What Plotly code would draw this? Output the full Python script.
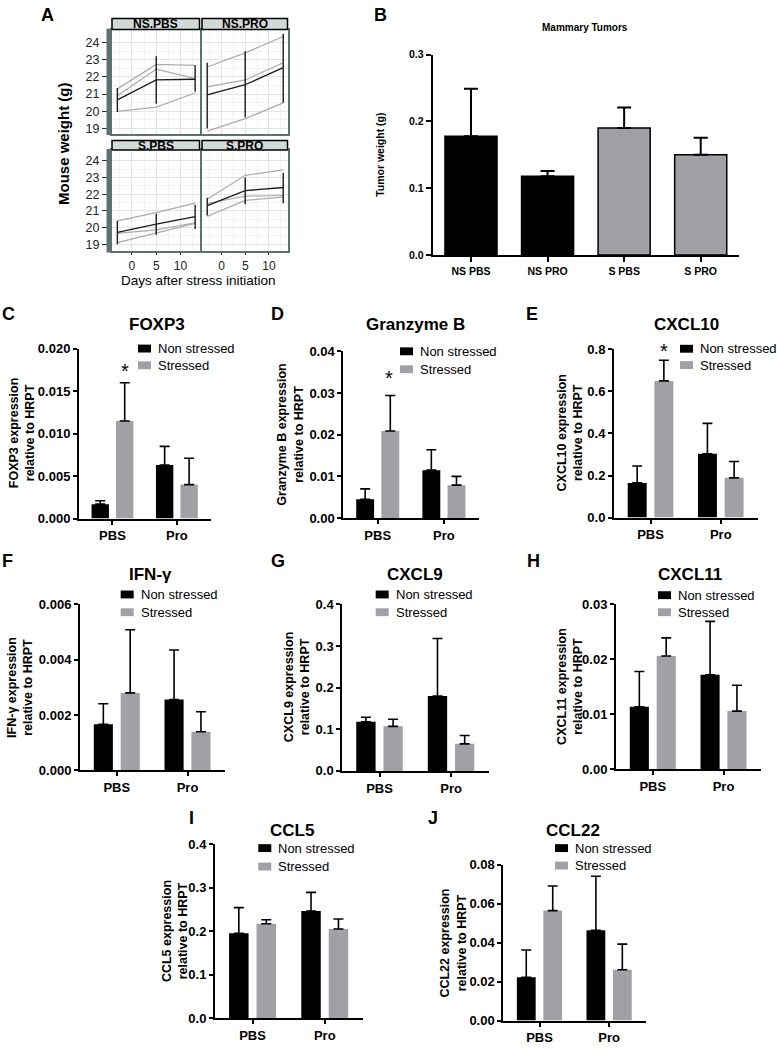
import plotly.graph_objects as go

W, H = 777, 1050
FONT = "Arial, Liberation Sans, Helvetica, sans-serif"

# ---------------- Panel A: mouse weight (g) ----------------
days = [-3, 5, 13]
a_facets = ["NS.PBS", "NS.PRO", "S.PBS", "S.PRO"]

nspbs_mean = [20.66, 21.82, 21.86]
nspbs_lo = [19.95, 20.43, 21.14]
nspbs_hi = [21.35, 23.20, 22.68]
nspbs_mice = [[21.30, 22.72, 22.67], [20.90, 22.44, 21.90], [19.99, 20.24, 21.06]]

nspro_mean = [20.95, 21.54, 22.53]
nspro_lo = [19.00, 19.65, 20.49]
nspro_hi = [22.82, 23.48, 24.50]
nspro_mice = [[22.57, 23.39, 24.34], [21.42, 21.82, 22.82], [18.85, 19.57, 20.49]]

spbs_mean = [19.71, 20.21, 20.65]
spbs_lo = [19.00, 19.57, 19.92]
spbs_hi = [20.40, 20.83, 21.36]
spbs_mice = [[20.40, 20.90, 21.46], [19.65, 19.86, 20.29], [19.10, 19.67, 20.25]]

spro_mean = [21.31, 22.21, 22.40]
spro_lo = [20.73, 21.40, 21.46]
spro_hi = [21.79, 23.00, 23.29]
spro_mice = [[21.69, 23.13, 23.46], [21.44, 21.88, 21.92], [20.67, 21.63, 21.82]]

a_yticks = [19, 20, 21, 22, 23, 24]
a_xticks = [0, 5, 10]

# ---------------- Panel B: tumor weight ----------------
b_groups = ["NS PBS", "NS PRO", "S PBS", "S PRO"]
b_mean = [0.178, 0.118, 0.190, 0.150]
b_sem = [0.071, 0.008, 0.031, 0.0255]

# ---------------- Panels C-J: expression relative to HRPT ----------------
treatments = ["PBS", "Pro"]
series_names = ["Non stressed", "Stressed"]

foxp3_non = [0.0017, 0.0063]
foxp3_non_sem = [0.0004, 0.0022]
foxp3_str = [0.0115, 0.0040]
foxp3_str_sem = [0.0045, 0.0031]

gzmb_non = [0.0045, 0.0115]
gzmb_non_sem = [0.0025, 0.0049]
gzmb_str = [0.0209, 0.0079]
gzmb_str_sem = [0.0085, 0.0021]

cxcl10_non = [0.165, 0.303]
cxcl10_non_sem = [0.080, 0.145]
cxcl10_str = [0.650, 0.189]
cxcl10_str_sem = [0.098, 0.078]

ifng_non = [0.00167, 0.00256]
ifng_non_sem = [0.00074, 0.00179]
ifng_str = [0.00280, 0.00140]
ifng_str_sem = [0.00228, 0.00072]

cxcl9_non = [0.118, 0.180]
cxcl9_non_sem = [0.011, 0.138]
cxcl9_str = [0.107, 0.065]
cxcl9_str_sem = [0.017, 0.020]

cxcl11_non = [0.0114, 0.0172]
cxcl11_non_sem = [0.0064, 0.0097]
cxcl11_str = [0.0206, 0.0106]
cxcl11_str_sem = [0.0033, 0.0047]

ccl5_non = [0.195, 0.246]
ccl5_non_sem = [0.059, 0.043]
ccl5_str = [0.217, 0.205]
ccl5_str_sem = [0.009, 0.023]

ccl22_non = [0.0222, 0.0463]
ccl22_non_sem = [0.0140, 0.0277]
ccl22_str = [0.0564, 0.0261]
ccl22_str_sem = [0.0126, 0.0131]

# ---------------- helpers ----------------
def fx(x):
    return x / W


def fy(y):
    return 1 - y / H


def axkey(letter, k):
    return f"{letter}axis" + ("" if k == 1 else str(k))


def tref(letter, k):
    return letter + ("" if k == 1 else str(k))


def ann(text, x, y, size, bold=False, angle=0, xanchor="center", yanchor="middle", color="black"):
    return dict(text=text, x=fx(x), y=fy(y), xref="paper", yref="paper", showarrow=False,
                textangle=angle, xanchor=xanchor, yanchor=yanchor,
                font=dict(size=size, color=color, family=FONT, weight="bold" if bold else "normal"))


def rect(x0, y0, x1, y1, fill, line_color=None, lw=0, layer="above"):
    return dict(type="rect", xref="paper", yref="paper", x0=fx(x0), x1=fx(x1), y0=fy(y1), y1=fy(y0),
                fillcolor=fill, line=dict(color=line_color or fill, width=lw), layer=layer)


fig = go.Figure()
layout = dict(width=W, height=H, margin=dict(l=0, r=0, t=0, b=0), paper_bgcolor="white",
              plot_bgcolor="white", showlegend=False, barmode="overlay", hovermode=False)
annotations = []
shapes = []

# ---------------- Panel A ----------------
SLATE = "#5b7370"
a_cols = [(112, 199.5), (202, 287.5)]
a_rows = [(23, 129), (145, 248)]
a_yranges = [[18.67, 24.74], [18.57, 24.65]]
a_xrange = [-4.1, 13.9]
a_data = [
    (nspbs_mean, nspbs_lo, nspbs_hi, nspbs_mice),
    (nspro_mean, nspro_lo, nspro_hi, nspro_mice),
    (spbs_mean, spbs_lo, spbs_hi, spbs_mice),
    (spro_mean, spro_lo, spro_hi, spro_mice),
]
a_strip_rows = [(11.7, 22.7), (135.5, 145)]

for i, name in enumerate(a_facets):
    k = i + 1
    r, c = divmod(i, 2)
    x0, x1 = a_cols[c]
    y0, y1 = a_rows[r]
    mean, lo, hi, mice = a_data[i]
    for m in mice:
        fig.add_trace(go.Scatter(x=days, y=m, mode="lines", line=dict(color="#ababab", width=1.2),
                                 xaxis=tref("x", k), yaxis=tref("y", k)))
    fig.add_trace(go.Scatter(
        x=days, y=mean, mode="lines", line=dict(color="#1a1a1a", width=1.3),
        error_y=dict(type="data", symmetric=False,
                     array=[h - m for h, m in zip(hi, mean)],
                     arrayminus=[m - l for m, l in zip(mean, lo)],
                     color="#1a1a1a", thickness=1.4, width=0),
        xaxis=tref("x", k), yaxis=tref("y", k)))
    bottom = r == 1
    left = c == 0
    layout[axkey("x", k)] = dict(
        domain=[fx(x0), fx(x1)], range=a_xrange, anchor=tref("y", k),
        showline=True, mirror=True, linecolor=SLATE, linewidth=2,
        showgrid=True, gridcolor="#e4e4e4", gridwidth=1, zeroline=False,
        tickvals=a_xticks, showticklabels=bottom,
        ticks="outside" if bottom else "", ticklen=2, tickcolor="#333",
        tickfont=dict(size=12, color="#222", family=FONT),
        minor=dict(tickvals=[-2.5, 2.5, 7.5, 12.5], showgrid=True, gridcolor="#f2f2f2", gridwidth=1))
    layout[axkey("y", k)] = dict(
        domain=[fy(y1), fy(y0)], range=a_yranges[r], anchor=tref("x", k),
        showline=True, mirror=True, linecolor=SLATE, linewidth=2,
        showgrid=True, gridcolor="#e4e4e4", gridwidth=1, zeroline=False,
        tickvals=a_yticks, showticklabels=left,
        ticks="outside" if left else "", ticklen=8, tickcolor="#333",
        tickfont=dict(size=12.5, color="#222", family=FONT),
        minor=dict(tickvals=[19.5, 20.5, 21.5, 22.5, 23.5], showgrid=True, gridcolor="#f2f2f2", gridwidth=1))
    sy0, sy1 = a_strip_rows[r]
    shapes.append(rect(x0, sy0, x1, sy1, "#d2dad8", "black", 1.5))
    annotations.append(ann(name, (x0 + x1) / 2, (sy0 + sy1) / 2 + 0.5, 12, bold=True))
    if left:
        shapes.append(rect(106.5, y0 - 1, 111.5, y1 + 1, SLATE))

annotations.append(ann("Mouse weight (g)", 63, 139, 15, bold=True, angle=-90))
annotations.append(ann("Days after stress initiation", 198.5, 277, 13.5))
annotations.append(ann("A", 47, 8, 18, bold=True))

# ---------------- Panel B ----------------
k = 5
GRAY = "#a1a1a5"
fig.add_trace(go.Bar(
    x=b_groups, y=b_mean, width=0.68, offset=-0.34,
    marker=dict(color=["black", "black", GRAY, GRAY], line=dict(color="black", width=1.5)),
    error_y=dict(type="data", symmetric=False, array=b_sem, arrayminus=[0] * len(b_sem),
                 color="black", thickness=2, width=7),
    xaxis=tref("x", k), yaxis=tref("y", k)))
layout[axkey("x", k)] = dict(
    domain=[fx(432.7), fx(739)], range=[-0.5, 3.5], anchor=tref("y", k), type="category",
    showline=True, linecolor="black", linewidth=2, ticks="outside", ticklen=5, tickwidth=2,
    tickcolor="black", showgrid=False, zeroline=False,
    tickfont=dict(size=10.5, color="black", family=FONT, weight="bold"))
layout[axkey("y", k)] = dict(
    domain=[fy(251.7), fy(48.3)], range=[0, 0.3], anchor=tref("x", k),
    tickvals=[0, 0.1, 0.2, 0.3], tickformat=".1f",
    showline=True, linecolor="black", linewidth=2, ticks="outside", ticklen=5, tickwidth=2,
    tickcolor="black", showgrid=False, zeroline=False,
    tickfont=dict(size=10.5, color="black", family=FONT, weight="bold"))
annotations.append(ann("Mammary Tumors", 585, 20.7, 10, bold=True))
annotations.append(ann("Tumor weight (g)", 380, 150, 10.5, bold=True, angle=-90))
annotations.append(ann("B", 380, 8.5, 18, bold=True))

# ---------------- Panels C-J ----------------
panels = [
    # letter, title, ytitle, non, non_sem, str, str_sem, ymax, dtick, fmt
    ("C", "FOXP3", "FOXP3 expression", foxp3_non, foxp3_non_sem, foxp3_str, foxp3_str_sem, 0.020, 0.005, ".3f"),
    ("D", "Granzyme B", "Granzyme B expression", gzmb_non, gzmb_non_sem, gzmb_str, gzmb_str_sem, 0.04, 0.01, ".2f"),
    ("E", "CXCL10", "CXCL10 expression", cxcl10_non, cxcl10_non_sem, cxcl10_str, cxcl10_str_sem, 0.8, 0.2, ".1f"),
    ("F", "IFN-γ", "IFN-γ expression", ifng_non, ifng_non_sem, ifng_str, ifng_str_sem, 0.006, 0.002, ".3f"),
    ("G", "CXCL9", "CXCL9 expression", cxcl9_non, cxcl9_non_sem, cxcl9_str, cxcl9_str_sem, 0.4, 0.1, ".1f"),
    ("H", "CXCL11", "CXCL11 expression", cxcl11_non, cxcl11_non_sem, cxcl11_str, cxcl11_str_sem, 0.03, 0.01, ".2f"),
    ("I", "CCL5", "CCL5 expression", ccl5_non, ccl5_non_sem, ccl5_str, ccl5_str_sem, 0.4, 0.1, ".1f"),
    ("J", "CCL22", "CCL22 expression", ccl22_non, ccl22_non_sem, ccl22_str, ccl22_str_sem, 0.08, 0.02, ".2f"),
]
# geometry in pixels: axis x left, axis x right, y top (ymax), y bottom (0)
geom = {
    "C": (79, 211, 346.7, 519),
    "D": (343.3, 479, 349.3, 518.5),
    "E": (614, 758, 347.3, 518),
    "F": (80, 225, 606, 774.5),
    "G": (342.3, 489, 606, 775),
    "H": (616, 761, 606, 773.5),
    "I": (215, 363, 849.3, 1025.7),
    "J": (503.3, 646, 870, 1028.3),
}
# letter pos, title pos, ytitle x, legend (square x, row1 y, row2 y)
deco = {
    "C": ((8, 311.7), (156.7, 321.7), 21.5, (138, 346.5, 363.5)),
    "D": ((277.5, 311.7), (415, 321.7), 290, (400, 349.3, 367.5)),
    "E": ((532, 311.7), (686.7, 321.7), 570, (680, 346.7, 363.3)),
    "F": ((7, 562), (150, 576), 20.5, (120.7, 596, 614)),
    "G": ((277.5, 562), (415, 576), 296.5, (375.7, 596, 614)),
    "H": ((533, 562), (690, 576), 570, (658, 596.7, 614)),
    "I": ((191, 823), (291.7, 835), 175, (258.3, 853.3, 872)),
    "J": ((433, 823), (572.7, 835), 453, (555, 853.3, 871)),
}
stars = {"C": (125, 364), "D": (388.5, 371.5), "E": (663.5, 343.5)}

OFF, BW = 0.19, 0.27
for j, (letter, title, ytitle, non, non_sem, st, st_sem, ymax, dt, fmt) in enumerate(panels):
    k = 6 + j
    xl, xr, yt, yb = geom[letter]
    for vals, sem, color, off in [(non, non_sem, "black", -OFF), (st, st_sem, GRAY, OFF)]:
        fig.add_trace(go.Bar(
            x=treatments, y=vals, width=BW, offset=off - BW / 2,
            marker=dict(color=color, line=dict(width=0)),
            error_y=dict(type="data", symmetric=False, array=sem, arrayminus=[0] * len(sem),
                         color="black", thickness=1.6, width=5),
            xaxis=tref("x", k), yaxis=tref("y", k)))
    layout[axkey("x", k)] = dict(
        domain=[fx(xl), fx(xr)], range=[-0.52, 1.53], anchor=tref("y", k), type="category",
        showline=True, linecolor="black", linewidth=2, ticks="outside", ticklen=4, tickwidth=2,
        tickcolor="black", showgrid=False, zeroline=False,
        tickfont=dict(size=13, color="black", family=FONT, weight="bold"))
    n = int(round(ymax / dt))
    layout[axkey("y", k)] = dict(
        domain=[fy(yb), fy(yt)], range=[0, ymax], anchor=tref("x", k),
        tickvals=[dt * i for i in range(n + 1)], tickformat=fmt,
        showline=True, linecolor="black", linewidth=2, ticks="outside", ticklen=4, tickwidth=2,
        tickcolor="black", showgrid=False, zeroline=False,
        tickfont=dict(size=13, color="black", family=FONT, weight="bold"))
    (lx, ly), (tx, ty), ytx, (sqx, r1, r2) = deco[letter]
    annotations.append(ann(letter, lx, ly, 18, bold=True))
    annotations.append(ann(title, tx, ty, 17, bold=True))
    annotations.append(ann(ytitle + "<br>relative to HRPT", ytx, (yt + yb) / 2, 12.5, bold=True, angle=-90))
    for name, color, ry in [(series_names[0], "black", r1), (series_names[1], GRAY, r2)]:
        shapes.append(rect(sqx, ry - 4, sqx + 13, ry + 4, color))
        annotations.append(ann(name, sqx + 18, ry, 13, xanchor="left"))
    if letter in stars:
        sx, sy = stars[letter]
        annotations.append(ann("*", sx, sy + 5, 20, bold=False))

layout["annotations"] = annotations
layout["shapes"] = shapes
fig.update_layout(**layout)
fig.write_html("out.html", config={"displayModeBar": False, "staticPlot": True},
               post_script="document.body.style.margin='0';document.body.style.overflow='hidden';")
